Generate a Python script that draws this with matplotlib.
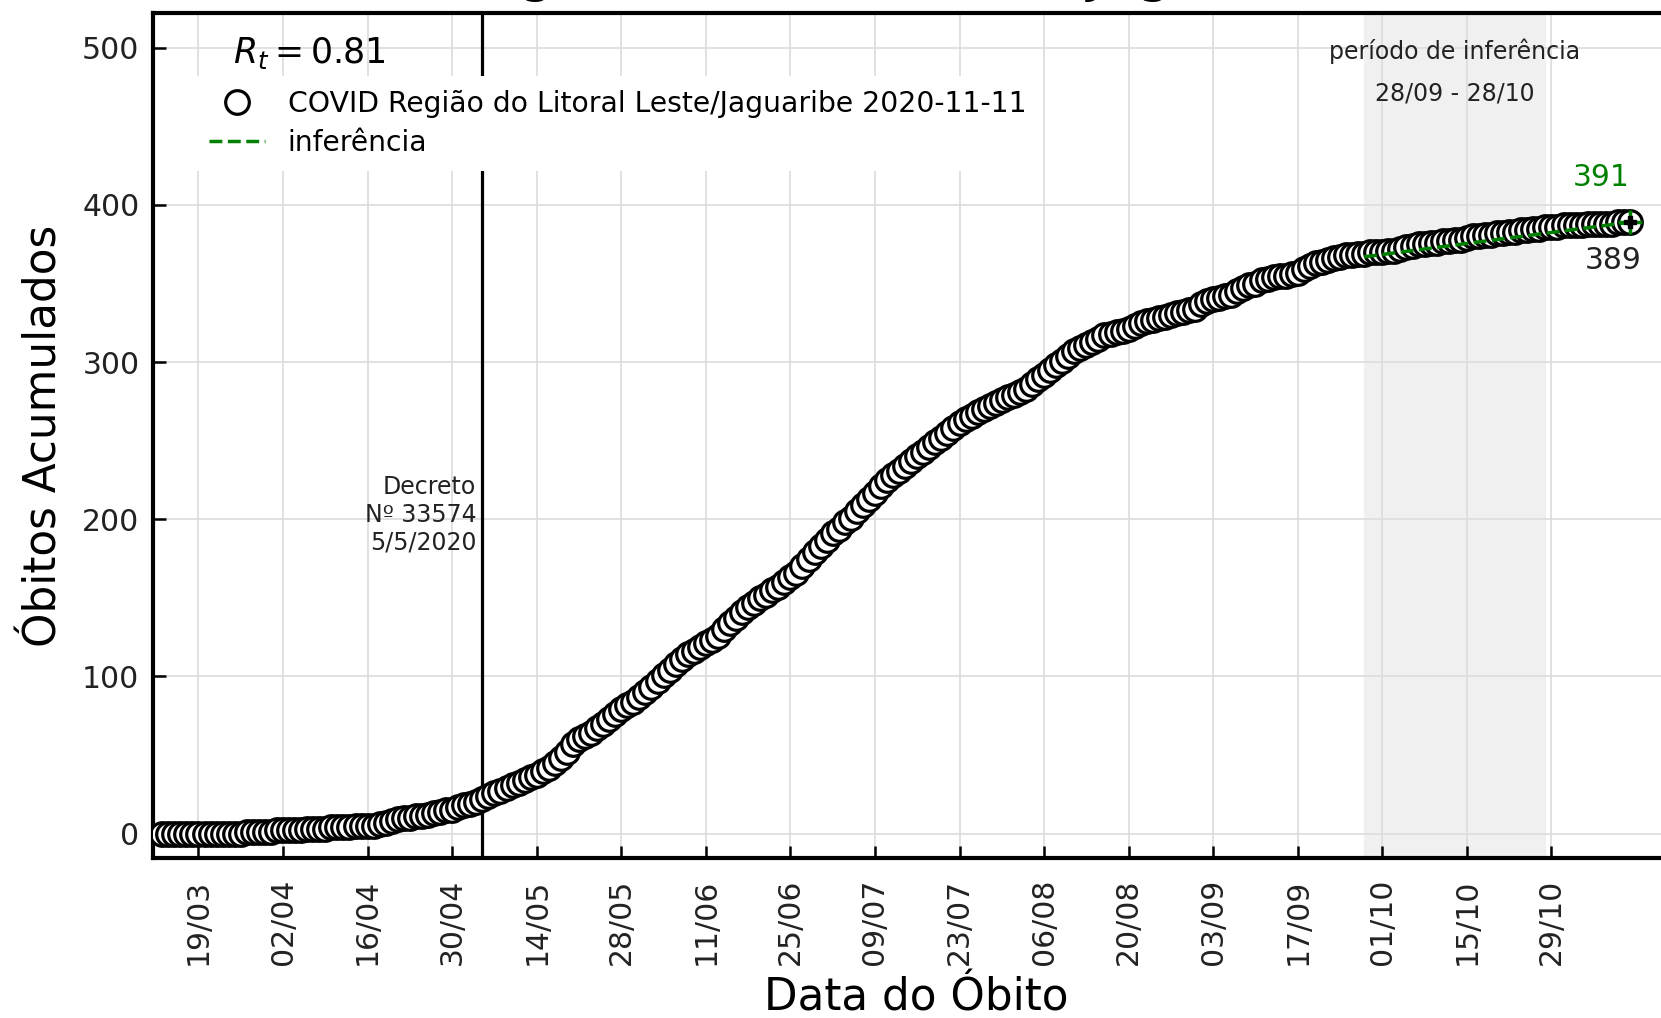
import pandas as pd
import matplotlib
matplotlib.use('Agg')
import matplotlib.pyplot as plt
import matplotlib.dates as mdates

# óbitos acumulados por dia, a partir de 13/03/2020 até 11/11/2020
inicio = '2020-03-13'
obitos = [
    0, 0, 0, 0, 0, 0, 0,
    0, 0, 0, 0, 0, 0, 0,
    1, 1, 1, 1, 1, 2, 2,
    2, 2, 2, 3, 3, 3, 3,
    4, 4, 4, 4, 5, 5, 5,
    5, 6, 7, 8, 9, 10, 10,
    11, 11, 12, 13, 14, 15, 15,
    17, 18, 19, 20, 22, 24, 26,
    27, 29, 31, 32, 34, 36, 37,
    40, 42, 45, 48, 52, 57, 60,
    62, 64, 67, 70, 73, 76, 79,
    82, 84, 87, 90, 93, 97, 101,
    104, 108, 111, 114, 116, 119, 121,
    123, 126, 130, 134, 137, 141, 144,
    147, 150, 152, 155, 157, 160, 163,
    166, 170, 175, 179, 183, 187, 191,
    194, 198, 201, 205, 209, 213, 217,
    221, 225, 228, 231, 234, 237, 240,
    243, 246, 249, 252, 255, 258, 261,
    264, 266, 268, 270, 272, 274, 276,
    278, 279, 281, 283, 286, 289, 292,
    295, 298, 301, 304, 307, 309, 311,
    313, 315, 317, 318, 319, 320, 321,
    323, 325, 326, 327, 328, 329, 330,
    331, 332, 333, 334, 337, 339, 340,
    341, 342, 343, 345, 347, 349, 350,
    352, 353, 354, 355, 355, 356, 357,
    359, 361, 363, 364, 365, 366, 367,
    368, 368, 369, 369, 370, 370, 370,
    371, 371, 372, 373, 374, 375, 375,
    376, 376, 377, 377, 378, 378, 379,
    380, 380, 381, 381, 382, 382, 383,
    383, 384, 384, 385, 385, 386, 386,
    386, 387, 387, 387, 387, 388, 388,
    388, 388, 388, 389, 389, 389,
]
datas = pd.date_range(inicio, periods=len(obitos), freq='D')

# reta de inferência
inf_datas = pd.to_datetime(['2020-09-28', '2020-11-11'])
inf_valores = [367, 389]
previsto = 391

periodo = pd.to_datetime(['2020-09-28', '2020-10-28'])
decreto = pd.Timestamp('2020-05-05')
rt = 0.81

ticks = pd.date_range('2020-03-19', '2020-10-29', freq='14D')

fig = plt.figure(figsize=(16.61, 10.18), dpi=100)
ax = fig.add_axes([0.0923, 0.1572, 0.9181, 0.8298])

ax.axvspan(periodo[0], periodo[1], color='#f0f0f0', zorder=0)
ax.grid(True, color='#dcdcdc', lw=1.2)
ax.axvline(decreto, color='black', lw=2.3, zorder=3)

ax.plot(datas, obitos, 'o', mfc='white', mec='black', ms=17, mew=2.3,
        label='COVID Região do Litoral Leste/Jaguaribe 2020-11-11', zorder=4)
ax.plot(inf_datas, inf_valores, '--', color='green', lw=2.5, label='inferência', zorder=5)
ax.plot(datas[-1], obitos[-1], '+', color='green', ms=17, mew=2.5, zorder=6)
ax.plot(datas[-1], obitos[-1], 'P', color='black', ms=9, zorder=7)

ax.annotate(str(previsto), (datas[-1], obitos[-1]), xytext=(-29, 45),
            textcoords='offset pixels', ha='center', va='center',
            color='green', fontsize=21.5)
ax.annotate(str(obitos[-1]), (datas[-1], obitos[-1]), xytext=(-17, -38),
            textcoords='offset pixels', ha='center', va='center',
            color='#222222', fontsize=21.5)

ax.annotate('Decreto\nNº 33574\n5/5/2020', (decreto, 203), xytext=(-6, 0),
            textcoords='offset pixels', ha='right', va='center',
            multialignment='right', fontsize=17, color='#222222')

meio = periodo[0] + (periodo[1] - periodo[0]) / 2
ax.text(meio, 498, 'período de inferência', ha='center', va='center', fontsize=17, color='#222222')
ax.text(meio, 471, '28/09 - 28/10', ha='center', va='center', fontsize=17, color='#222222')

ax.text(0.052, 0.9406, r'$R_t = %.2f$' % rt, transform=ax.transAxes,
        fontsize=25, va='baseline', ha='left')

leg = ax.legend(loc='upper left', bbox_to_anchor=(0.0270, 0.9255), borderaxespad=0,
                fontsize=20.3, frameon=True, framealpha=1, facecolor='white',
                edgecolor='none', labelspacing=0.38, borderpad=0.5, fancybox=False)
leg.set_zorder(10)

ax.set_xlim(pd.Timestamp('2020-03-11 12:30'), pd.Timestamp('2020-11-19'))
ax.set_ylim(-15.5, 522)
ax.set_yticks([0, 100, 200, 300, 400, 500])
ax.set_xticks(ticks)
ax.xaxis.set_major_formatter(mdates.DateFormatter('%d/%m'))
plt.setp(ax.get_xticklabels(), rotation=90)

ax.tick_params(axis='both', direction='in', length=9, width=1.8, labelsize=21.5,
               colors='black', labelcolor='#222222')
ax.tick_params(axis='x', pad=15)
ax.tick_params(axis='y', pad=10)
for s in ax.spines.values():
    s.set_linewidth(3)

ax.set_xlabel('Data do Óbito', fontsize=31.5, labelpad=8)
ax.set_ylabel('Óbitos Acumulados', fontsize=31.5, labelpad=12)

# título (cortado no topo da imagem)
fig.text(260 / 1661, 1 + 8.5 / 1018, 'COVID Região do Litoral Leste/Jaguaribe',
         fontsize=39, ha='left', va='baseline')

plt.savefig('out.png', dpi=100)
